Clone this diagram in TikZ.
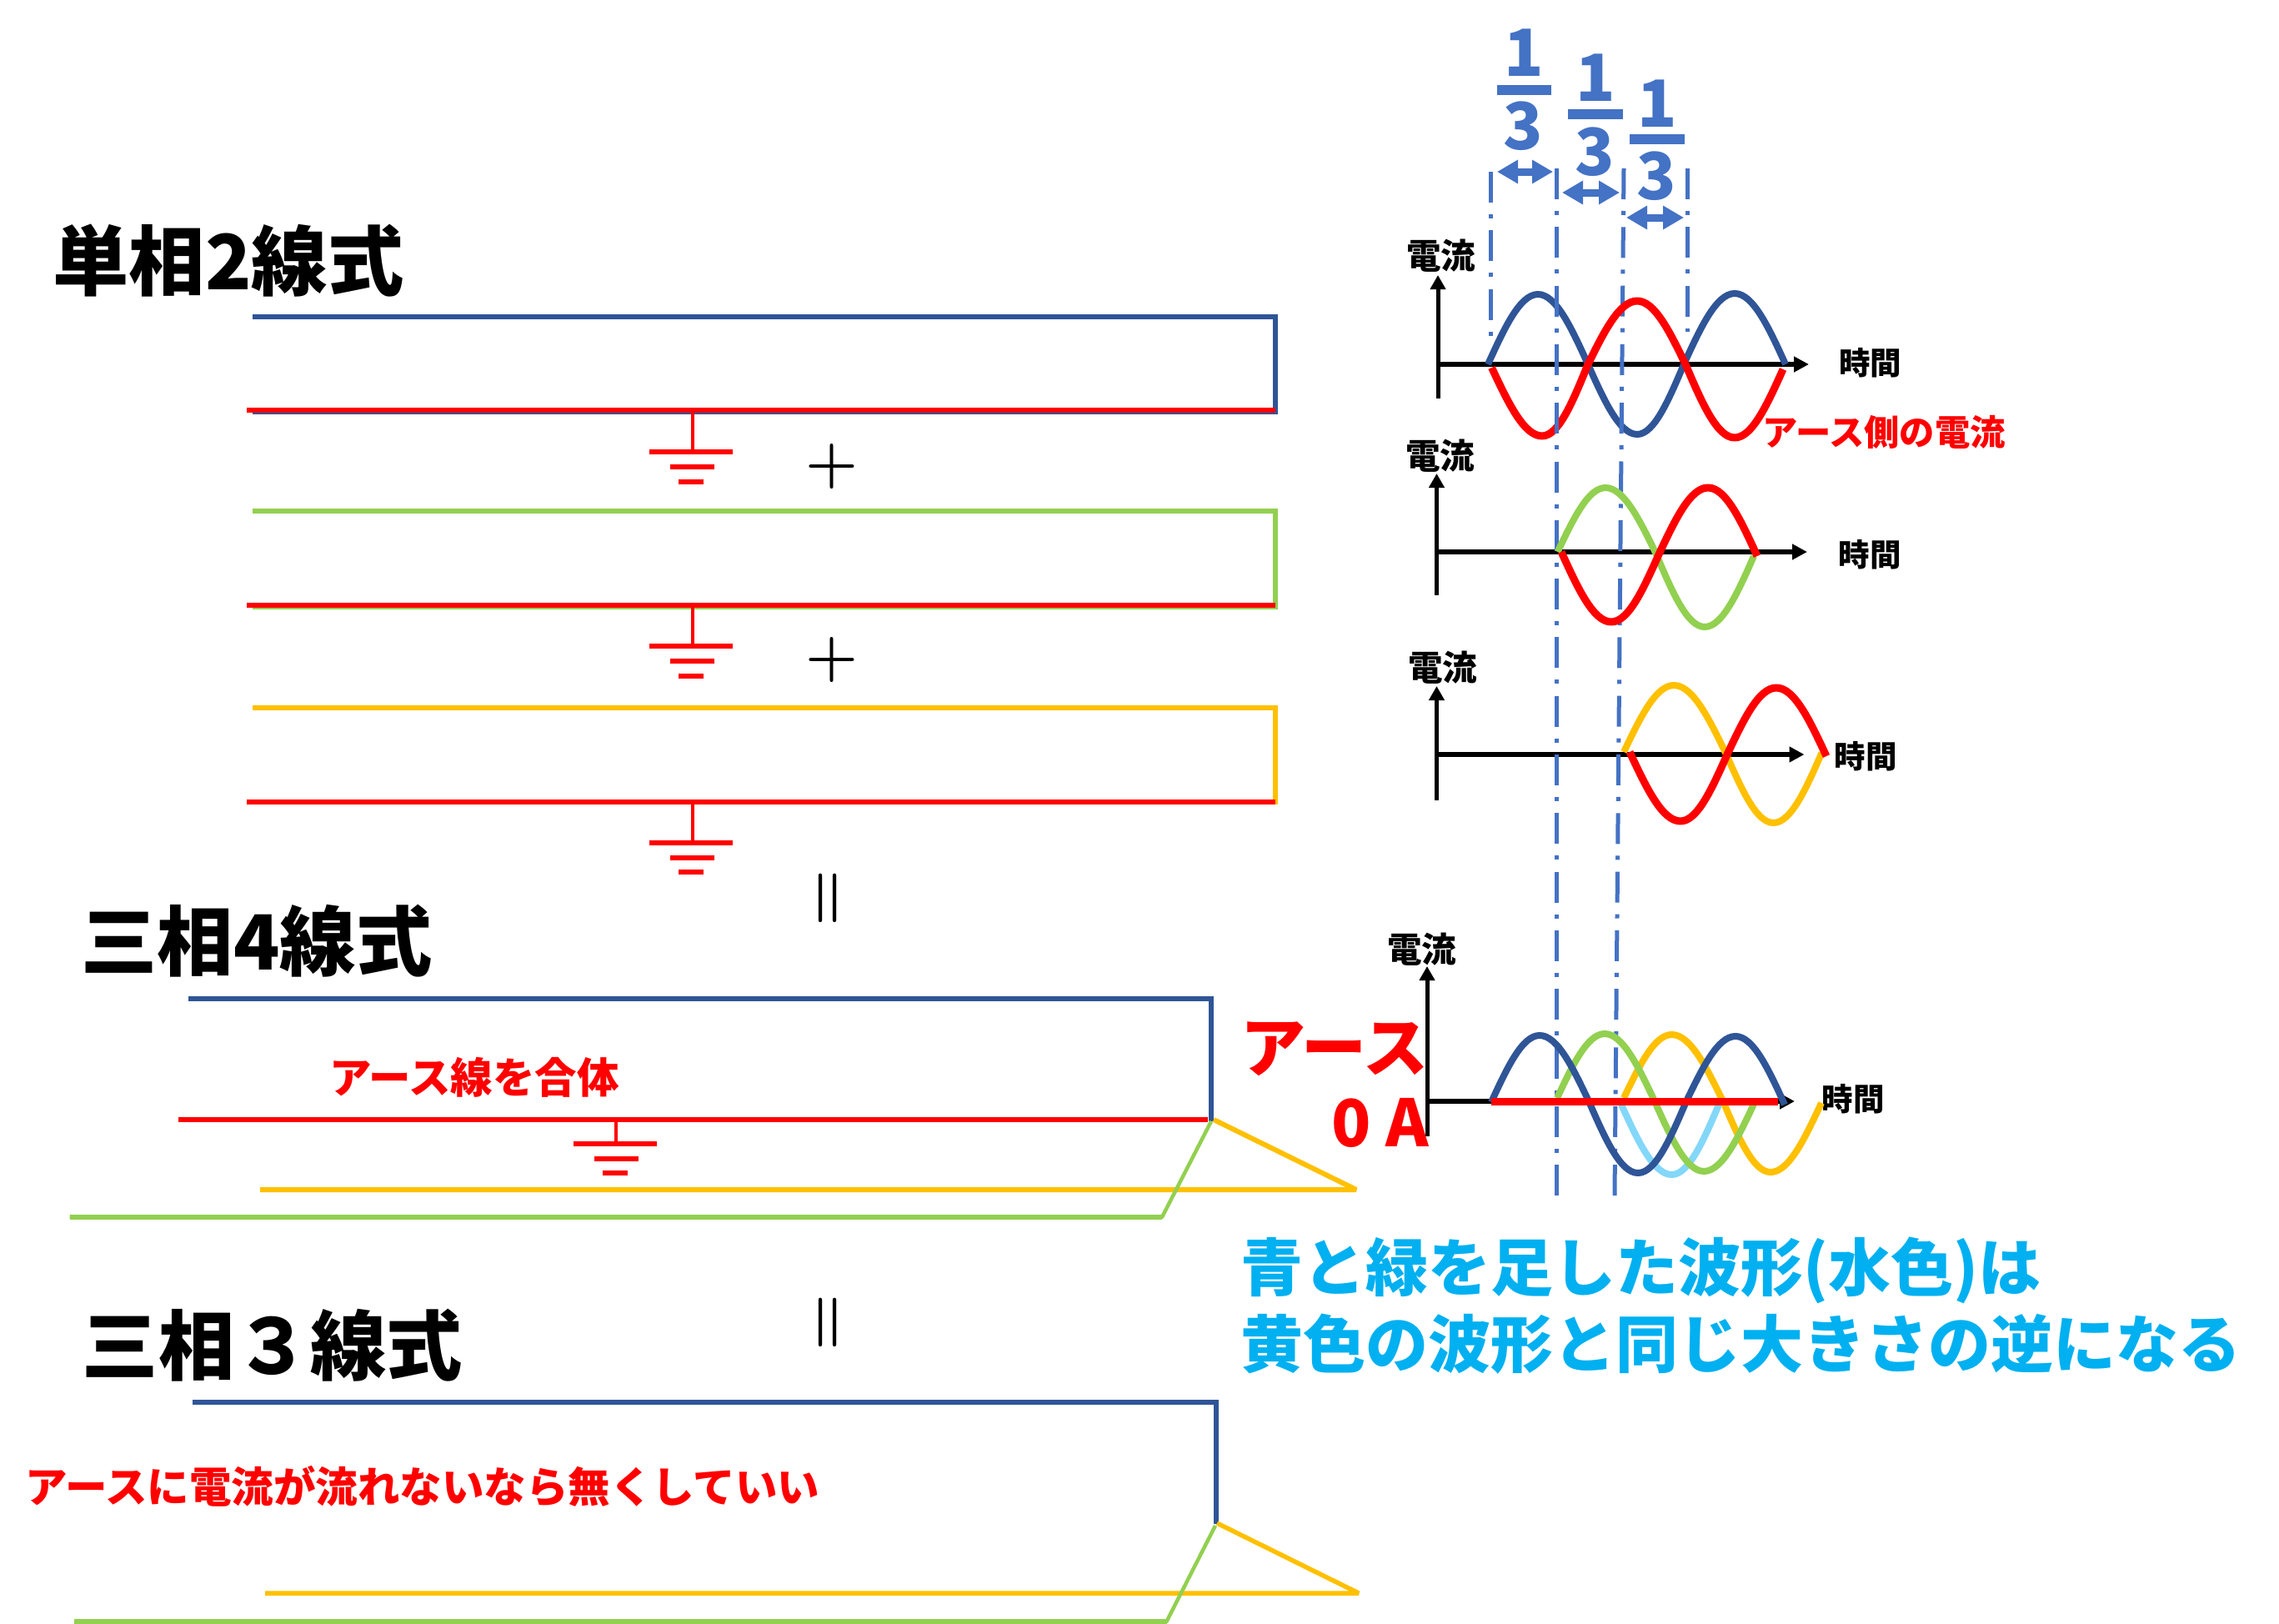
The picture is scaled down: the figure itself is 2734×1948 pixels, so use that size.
\documentclass[tikz,border=0pt]{standalone}
\usepackage{fontspec}
\usepackage{graphicx}
\usetikzlibrary{arrows.meta}
\newfontfamily\jp{Noto Sans CJK JP}
\definecolor{wblue}{HTML}{2F5597}
\definecolor{wred}{HTML}{FF0000}
\definecolor{wgreen}{HTML}{92D050}
\definecolor{wyellow}{HTML}{FFC000}
\definecolor{dblue}{HTML}{4472C4}
\definecolor{wcyan}{HTML}{00B0F0}
\definecolor{wsky}{HTML}{83D7F9}
\newcommand{\fs}[1]{\fontsize{#1}{#1}\selectfont}
\tikzset{
  txt/.style={inner sep=0pt,outer sep=0pt,font=\jp\bfseries},
  title/.style={txt,font=\jp\bfseries\fs{91.3},text=black},
  axlabel/.style={txt,font=\jp\bfseries\fs{41.5},text=black},
  timelabel/.style={txt,font=\jp\bfseries\fs{37.5},text=black},
  redsmall/.style={txt,font=\jp\bfseries\fs{50.5},text=wred},
  cyantext/.style={txt,font=\jp\bfseries\fs{75},text=wcyan},
  frac/.style={txt,font=\jp\bfseries\fs{78},text=dblue},
  wire/.style={line width=6pt,line cap=butt,line join=miter},
  diag/.style={line width=4.5pt,line cap=butt,line join=bevel},
  gnd/.style={line width=6pt,wred},
  stem/.style={line width=4pt,wred},
  wave/.style={line width=8pt,line cap=butt,line join=round},
  axisv/.style={line width=5pt,-{Triangle[length=17pt,width=18pt]}},
  axish/.style={line width=5.5pt,-{Triangle[length=18pt,width=18pt]}},
  dd/.style={line width=5pt,dblue,dash pattern=on 37pt off 14pt on 5pt off 14.3pt},
  span/.style={line width=9pt,dblue,{Triangle[length=25pt,width=27pt]}-{Triangle[length=25pt,width=27pt]}},
  fbar/.style={line width=12pt,dblue},
  opsym/.style={inner sep=0pt,outer sep=0pt,font=\bfseries\fs{72}},
  eqsym/.style={inner sep=0pt,outer sep=0pt,font=\bfseries\fs{78},rotate=90}
}
\newcommand{\ground}[4]{% x, wire y, bar y start, spacing
  \draw[stem] (#1,#2) -- (#1,#3);
  \draw[gnd] (#1-51.5,#3) -- (#1+48.5,#3);
  \draw[gnd] (#1-26.5,#3+#4) -- (#1+26.5,#3+#4);
  \draw[gnd] (#1-16.5,#3+#4+#4) -- (#1+13.5,#3+#4+#4);
}
\begin{document}
\begin{tikzpicture}[x=1pt,y=-1pt]
\useasboundingbox (0,0) rectangle (2734,1948);
% ---- single phase circuits
\node[title,anchor=center] (t1) at (274,313) {単相2線式};
\draw[wire,wblue] (303,380) -- (1530,380) -- (1530,494) -- (303,494);
\draw[wire,wred] (296,492) -- (1530,492);
\ground{830.5}{492}{542}{18}
\node[opsym] (p1) at (998,559.5) {+};
\draw[wire,wgreen] (303,613) -- (1530,613) -- (1530,727.5) -- (303,727.5);
\draw[wire,wred] (296,726) -- (1530,726);
\ground{830.5}{726}{775}{18}
\node[opsym] (p2) at (998,792) {+};
\draw[wire,wyellow] (303,849) -- (1530,849) -- (1530,965);
\draw[wire,wred] (296,962) -- (1530,962);
\ground{830.5}{962}{1011}{17.5}
\node[eqsym] (e1) at (997.5,1077) {=};
% ---- three phase four wire
\node[title,anchor=center] (t2) at (308,1129) {三相4線式};
\draw[wire,wblue] (226,1198) -- (1452.5,1198) -- (1452.5,1345);
\draw[wire,wred] (214,1343) -- (1449,1343);
\ground{739}{1343}{1372}{17.5}
\node[redsmall] (l1) at (569,1292) {アース線を合体};
\draw[diag,line width=6pt,wyellow] (312,1427) -- (1627,1427) -- (1456,1343);
\draw[diag,wgreen] (83.5,1460) -- (1394,1460) -- (1453,1345);
\draw[wire,wgreen] (83.5,1460) -- (1394,1460);
\node[eqsym] (e2) at (997.5,1586) {=};
% ---- three phase three wire
\node[title,anchor=center] (t3) at (327,1614) {三相３線式};
\draw[wire,wblue] (231,1682) -- (1458.7,1682) -- (1458.7,1828);
\node[redsmall] (l2) at (507,1783) {アースに電流が流れないなら無くしていい};
\draw[diag,line width=5.5pt,wyellow] (318,1911) -- (1630,1911) -- (1460,1827);
\draw[diag,wgreen] (89,1945) -- (1399.5,1945) -- (1458,1830);
\draw[wire,wgreen] (89,1945) -- (1399.5,1945);
% ---- graphs: axes
\draw[axisv] (1725,477.5) -- (1725,330);
\draw[axish] (1725,437) -- (2170,437);
\draw[axisv] (1723.5,714) -- (1723.5,568);
\draw[axish] (1723.5,662) -- (2168,662);
\draw[axisv] (1723.5,960) -- (1723.5,823);
\draw[axish] (1723.5,905) -- (2164.5,905);
\draw[axisv] (1712,1363) -- (1712,1159);
\draw[axish] (1712,1321) -- (2153,1321);
\node[axlabel] (c1) at (1737,308) [xshift=-8.5pt,yshift=1pt] {電流};
\node[axlabel] (c2) at (1736,548) [xshift=-8.5pt,yshift=1pt] {電流};
\node[axlabel] (c3) at (1739,802) [xshift=-8.5pt,yshift=1pt] {電流};
\node[axlabel] (c4) at (1714,1140) [xshift=-8.5pt,yshift=1pt] {電流};
\node[timelabel] (h1) at (2243.5,435.5) {時間};
\node[timelabel] (h2) at (2243,665.5) {時間};
\node[timelabel] (h3) at (2238,907.5) {時間};
\node[timelabel] (h4) at (2223,1318.5) {時間};
% graph 1 blue
\draw[wave,wblue] (1785,437) sin (1845,353) cos (1905,437) sin (1964,521) cos (2020,437) sin (2081,352) cos (2142,437);
% dash-dot guides
\draw[dd] (1788,206) -- (1788,404);
\draw[dd] (1948,202) -- (1937,1434);
\draw[dd] (2024,202) -- (2024,398);
% graph 1 red
\draw[wave,line width=9pt,wred] (1789.5,441) sin (1850,523) cos (1905,437) sin (1964,361) cos (2022,437) sin (2081,525) cos (2139,443);
\draw[dd] (1867.5,202) -- (1867.5,1434);
% graph 2
\draw[wave,wgreen] (1868.6,662) sin (1926,585) cos (1987,665) sin (2045,752) cos (2104,667);
\draw[wave,line width=9pt,wred] (1873,662) sin (1933,746) cos (1990,665) sin (2049,585) cos (2108,667);
% graph 3
\draw[wave,wyellow] (1948,902) sin (2008,822) cos (2071,905) sin (2127.5,987) cos (2185.5,903);
\draw[wave,line width=9pt,wred] (1955,902) sin (2016,985) cos (2072,905) sin (2131,825) cos (2191,907);
% graph 4
\draw[wave,wsky] (1945,1325) sin (2005.5,1409) cos (2062,1325);
\draw[wave,wyellow] (1948,1317) sin (2005.5,1241) cos (2067,1321) sin (2124,1406) cos (2185,1323);
\draw[wave,wgreen] (1868,1317) sin (1925,1240) cos (1985,1321) sin (2044,1405) cos (2105,1322);
\draw[wave,wblue] (1789,1322) sin (1847,1242) cos (1906,1321) sin (1965,1407) cos (2023,1321) sin (2082,1243) cos (2141,1325);
\draw[line width=9pt,wred] (1789,1321.5) -- (2133,1321.5);
% fractions
\node[frac] (n1) at (1828,63.5) {1};
\draw[fbar] (1796,108) -- (1861,108);
\node[frac] (d1) at (1827,151.5) {3};
\node[frac] (n2) at (1914,93.5) {1};
\draw[fbar] (1881,137) -- (1947,137);
\node[frac] (d2) at (1913,182) {3};
\node[frac] (n3) at (1988,124.5) {1};
\draw[fbar] (1955,167.5) -- (2021,167.5);
\node[frac] (d3) at (1987,211.5) {3};
\draw[span] (1796,206) -- (1863,206);
\draw[span] (1874,231) -- (1943,231);
\draw[span] (1951,261) -- (2020,261);
% labels
\node[txt,font=\jp\bfseries\fs{42.3},text=wred] (r1) at (2260,518) {アース側の電流};
\node[txt,font=\jp\bfseries\fs{78},text=wred] (r2) at (1601,1258) {アース};
\node[txt,font=\jp\bfseries\fs{78},text=wred] (r3) at (1655.5,1346.5) {0 A};
\node[cyantext,anchor=west] (b1) at (1488,1524) {青と緑を足した波形(水色)は};
\node[cyantext,anchor=west] (b2) at (1488,1612) {黄色の波形と同じ大きさの逆になる};
\end{tikzpicture}
\end{document}
